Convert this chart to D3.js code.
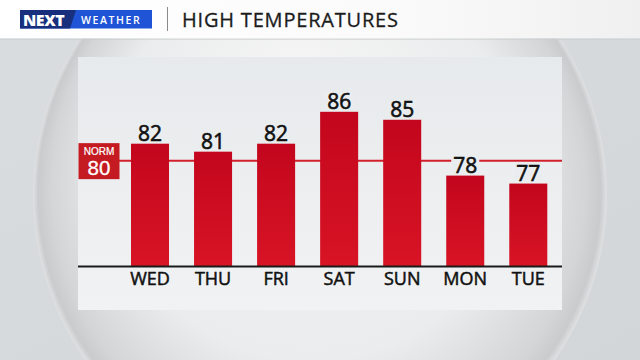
<!DOCTYPE html>
<html>
<head>
<meta charset="utf-8">
<script src="https://cdn.jsdelivr.net/npm/d3@7"></script>
<style>
  body { margin: 0; background: #d5d9db; }
  svg { display: block; }
</style>
</head>
<body>
<script>
// chart data
var days = ["WED", "THU", "FRI", "SAT", "SUN", "MON", "TUE"];
var highs = [82, 81, 82, 86, 85, 78, 77];
var normalHigh = [80];
var title = "HIGH TEMPERATURES";

var w = 640, h = 360;

var svg = d3.select("body").append("svg")
    .attr("width", w)
    .attr("height", h)
    .style("font-family", "'Open Sans', sans-serif");

var defs = svg.append("defs");

var bg = defs.append("linearGradient").attr("id", "bg")
    .attr("x1", 0).attr("y1", 0).attr("x2", 1).attr("y2", 1);
bg.append("stop").attr("offset", "0%").attr("stop-color", "#d9dddf");
bg.append("stop").attr("offset", "100%").attr("stop-color", "#d2d6d8");

var sphere = defs.append("radialGradient").attr("id", "sphere")
    .attr("cx", "0.5").attr("cy", "0.5").attr("r", "0.5")
    .attr("fx", "0.45").attr("fy", "0.3");
sphere.append("stop").attr("offset", "0%").attr("stop-color", "#f6f6f6");
sphere.append("stop").attr("offset", "70%").attr("stop-color", "#ebeced");
sphere.append("stop").attr("offset", "93%").attr("stop-color", "#d3d5d7");
sphere.append("stop").attr("offset", "98%").attr("stop-color", "#c9cbcd");
sphere.append("stop").attr("offset", "100%").attr("stop-color", "#dfe1e2");

var head = defs.append("linearGradient").attr("id", "head")
    .attr("x1", 0).attr("y1", 0).attr("x2", 1).attr("y2", 0);
head.append("stop").attr("offset", "0%").attr("stop-color", "#ffffff");
head.append("stop").attr("offset", "60%").attr("stop-color", "#fbfbfb");
head.append("stop").attr("offset", "100%").attr("stop-color", "#f0f0f0");

var panelGrad = defs.append("linearGradient").attr("id", "panel")
    .attr("x1", 0).attr("y1", 0).attr("x2", 0).attr("y2", 1);
panelGrad.append("stop").attr("offset", "0%").attr("stop-color", "#e7eaec");
panelGrad.append("stop").attr("offset", "100%").attr("stop-color", "#f1f2f3");

var barGrad = defs.append("linearGradient").attr("id", "bar")
    .attr("x1", 0).attr("y1", 0).attr("x2", 0).attr("y2", 1);
barGrad.append("stop").attr("offset", "0%").attr("stop-color", "#c3061d");
barGrad.append("stop").attr("offset", "100%").attr("stop-color", "#d81425");

// background + sphere
svg.append("rect").attr("width", w).attr("height", h).attr("fill", "url(#bg)");
svg.append("circle")
    .attr("cx", 320).attr("cy", 195).attr("r", 287)
    .attr("fill", "url(#sphere)");

// header
svg.append("rect").attr("width", w).attr("height", 38.5).attr("fill", "url(#head)");
svg.append("rect").attr("y", 38.5).attr("width", w).attr("height", 1.5).attr("fill", "#c9cdcf").attr("opacity", 0.6);

var logo = svg.append("g");
logo.append("rect").attr("x", 20).attr("y", 10).attr("width", 132).attr("height", 18.5).attr("fill", "#1f54d6");
logo.append("path").attr("d", "M20,10 H76 L70,28.5 H20 Z").attr("fill", "#172f7d");
logo.append("text").attr("x", 23).attr("y", 25.5)
    .attr("fill", "#fff").attr("font-size", 16).attr("font-weight", 800)
    .attr("letter-spacing", -0.5)
    .text("NEXT");
logo.append("text").attr("x", 81).attr("y", 23.5)
    .attr("fill", "#fff").attr("font-size", 10.5).attr("font-weight", 600)
    .attr("letter-spacing", 1.6)
    .text("WEATHER");

svg.append("line").attr("x1", 167.5).attr("x2", 167.5).attr("y1", 7).attr("y2", 31)
    .attr("stroke", "#8a8a8a").attr("stroke-width", 1);
svg.append("text").attr("x", 182).attr("y", 27)
    .attr("fill", "#1b1b1b").attr("font-size", 20)
    .attr("stroke", "#1b1b1b").attr("stroke-width", 0.3)
    .attr("textLength", 216)
    .text(title);

// panel
var panel = { left: 78, right: 562, top: 57, bottom: 310 };
svg.append("rect")
    .attr("x", panel.left).attr("y", panel.top)
    .attr("width", panel.right - panel.left).attr("height", panel.bottom - panel.top)
    .attr("fill", "url(#panel)");

var x = d3.scaleBand().domain(days).range([131, 547.3]).paddingInner(0.397).paddingOuter(0);
var y = d3.scaleLinear().domain([66.6, 86]).range([266.5, 111.8]);

// normal line + box
svg.append("line")
    .attr("x1", 119).attr("x2", panel.right)
    .attr("y1", y(normalHigh[0]) + 1).attr("y2", y(normalHigh[0]) + 1)
    .attr("stroke", "#d1202b").attr("stroke-width", 2);

var norm = svg.append("g")
    .attr("transform", "translate(78.5," + (y(normalHigh[0]) + 1 - 17.5) + ")")
    .style("font-family", "'Liberation Sans', Arial, sans-serif");
norm.append("rect").attr("width", 41).attr("height", 36).attr("fill", "#c41a22");
norm.append("text").attr("x", 20.5).attr("y", 11.5)
    .attr("text-anchor", "middle").attr("fill", "#fff")
    .attr("font-size", 10).attr("stroke", "#fff").attr("stroke-width", 0.2)
    .text("NORM");
norm.append("text").attr("x", 20.5).attr("y", 32)
    .attr("text-anchor", "middle").attr("fill", "#fff")
    .attr("stroke", "#fff").attr("stroke-width", 0.3)
    .attr("font-size", 20.5)
    .text(normalHigh[0]);

// bars
svg.selectAll(".bar").data(highs).enter().append("rect")
    .attr("class", "bar")
    .attr("x", function(d, i) { return x(days[i]); })
    .attr("y", function(d) { return y(d); })
    .attr("width", x.bandwidth())
    .attr("height", function(d) { return y.range()[0] - y(d); })
    .attr("fill", "url(#bar)");

// value labels: halo first (knocks out the normal line), then the text
var vals = svg.selectAll(".val").data(highs).enter().append("g")
    .attr("class", "val")
    .attr("transform", function(d, i) {
        return "translate(" + (x(days[i]) + x.bandwidth() / 2) + "," + (y(d) - 2.5) + ")";
    });
vals.append("rect")
    .attr("x", -14).attr("y", -17).attr("width", 28).attr("height", 16)
    .attr("fill", "#eaedef");
vals.append("text")
    .attr("text-anchor", "middle")
    .attr("font-size", 21)
    .attr("fill", "#111")
    .attr("stroke", "#111").attr("stroke-width", 0.6)
    .text(function(d) { return d; });

// baseline + day axis
var axis = svg.append("g")
    .attr("transform", "translate(0," + y.range()[0] + ")")
    .call(d3.axisBottom(x).tickSize(0).tickPadding(6));
axis.select(".domain").remove();
axis.append("line").attr("x1", panel.left).attr("x2", panel.right)
    .attr("stroke", "#1a1a1a").attr("stroke-width", 2);
axis.selectAll(".tick text")
    .attr("font-family", "'Open Sans', sans-serif")
    .attr("font-size", 18)
    .attr("fill", "#111")
    .attr("stroke", "#111").attr("stroke-width", 0.5);
</script>
</body>
</html>
